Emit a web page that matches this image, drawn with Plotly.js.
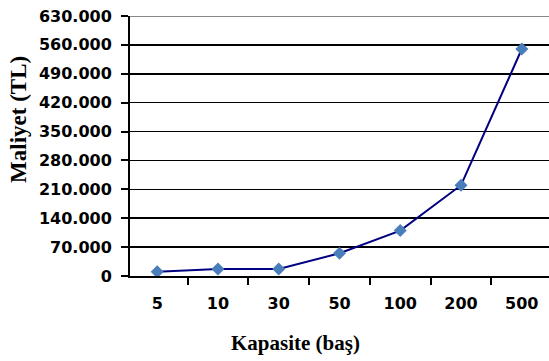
<!DOCTYPE html>
<html><head><meta charset="utf-8">
<script src="https://cdn.plot.ly/plotly-3.0.1.min.js"></script>
<style>html,body{margin:0;padding:0;background:#fff}#chart{width:549px;height:361px}</style>
</head><body><div id="chart"></div>
<script>
const categories = ["5", "10", "30", "50", "100", "200", "500"];
const costs = [10000, 17000, 17000, 55000, 110000, 220000, 550000];
const yTicks = [0, 70000, 140000, 210000, 280000, 350000, 420000, 490000, 560000, 630000];
const xTitle = "Kapasite (baş)";
const yTitle = "Maliyet (TL)";

const tickFont = {family: "DejaVu Sans", size: 16, color: "#000", weight: "bold"};
const xTitleFont = {family: "Liberation Serif", size: 21, color: "#000", weight: "bold"};
const yTitleFont = {family: "Liberation Serif", size: 23, color: "#000", weight: "bold"};

Plotly.newPlot("chart", [{
  x: categories, y: costs, type: "scatter", mode: "lines+markers",
  line: {color: "#000080", width: 2},
  marker: {symbol: "diamond", size: 10, color: "#4A7EBB"},
  cliponaxis: false
}], {
  width: 549, height: 361,
  margin: {l: 130, r: 0, t: 16, b: 85},
  separators: ",.",
  paper_bgcolor: "#fff", plot_bgcolor: "#fff",
  showlegend: false,
  xaxis: {
    type: "category", tickson: "boundaries", ticks: "outside", ticklen: 7, tickwidth: 2, tickcolor: "#000",
    showline: true, linecolor: "#000", linewidth: 2, showgrid: false, zeroline: false,
    tickfont: tickFont, ticklabelstandoff: 12
  },
  yaxis: {
    range: [0, 630000], tickvals: yTicks, tickformat: ",d",
    ticks: "outside", ticklen: 7, tickwidth: 2, tickcolor: "#000",
    showline: true, linecolor: "#000", linewidth: 2,
    showgrid: true, gridcolor: "#000", gridwidth: 1.5, zeroline: false,
    tickfont: tickFont, ticklabelstandoff: 6
  },
  shapes: [{type: "line", xref: "paper", yref: "y", x0: 0, x1: 1, y0: 630000, y1: 630000,
    line: {color: "#888", width: 2}, layer: "above"}],
  annotations: [
    {text: yTitle, xref: "paper", yref: "paper", x: -0.265, y: 0.604,
     textangle: -90, showarrow: false, font: yTitleFont, xanchor: "center", yanchor: "middle"},
    {text: xTitle, xref: "paper", yref: "paper", x: 0.394, y: -0.258,
     showarrow: false, font: xTitleFont, xanchor: "center", yanchor: "middle"}
  ]
}, {displayModeBar: false, staticPlot: true});
</script></body></html>
